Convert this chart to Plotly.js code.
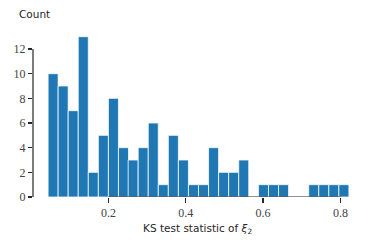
<!DOCTYPE html>
<html><head><meta charset="utf-8">
<script src="https://cdn.plot.ly/plotly-3.0.1.min.js"></script>
<style>html,body{margin:0;padding:0;background:#fff;}#chart{width:374px;height:245px;}</style>
</head><body><div id="chart"></div>
<script>
// Histogram bins (centers) and counts
const binCenters = [0.057,0.083,0.109,0.135,0.161,0.187,0.213,0.239,0.264,0.290,
                    0.316,0.342,0.368,0.394,0.420,0.446,0.472,0.498,0.524,0.550,
                    0.576,0.601,0.627,0.653,0.679,0.705,0.731,0.757,0.783,0.809];
const counts = [10,9,7,13,2,5,8,4,3,4,6,1,5,3,1,1,4,2,2,3,0,1,1,1,0,0,1,1,1,1];
const binWidth = 0.0259;
const xTicks = [0.2,0.4,0.6,0.8];
const xTickText = ['0.2','0.4','0.6','0.8'];
const yTicks = [0,2,4,6,8,10,12];
const yTickText = ['0','2','4','6','8','10','12'];

const trace = {
  type:'bar', x:binCenters, y:counts,
  width: counts.map(()=>binWidth),
  marker:{color:'#1f77b4', line:{color:'rgba(255,255,255,0.75)', width:1}},
  hoverinfo:'skip'
};
const spineColor = '#262626';
const serif = '"Liberation Serif", "DejaVu Serif", serif';
const layout = {
  width:374, height:245,
  margin:{l:33, r:22, t:33, b:48},
  paper_bgcolor:'#fff', plot_bgcolor:'#fff',
  showlegend:false, bargap:0,
  xaxis:{range:[0.005,0.83], tickvals:xTicks, ticktext:xTickText,
    ticks:'outside', ticklen:5, tickwidth:1.2, tickcolor:spineColor,
    showgrid:false, zeroline:false, showline:false,
    tickfont:{family:serif, size:12, color:'#444'}},
  yaxis:{range:[0,13.3], tickvals:yTicks, ticktext:yTickText,
    ticks:'outside', ticklen:4, tickwidth:1.2, tickcolor:spineColor,
    showgrid:false, zeroline:false, showline:false,
    tickfont:{family:serif, size:12, color:'#444'}},
  shapes:[
    {type:'line', xref:'x', yref:'y', x0:xTicks[0], x1:xTicks[xTicks.length-1], y0:0, y1:0,
     line:{color:spineColor, width:1.2}},
    {type:'line', xref:'paper', yref:'y', x0:0, x1:0, y0:yTicks[0], y1:yTicks[yTicks.length-1],
     line:{color:spineColor, width:1.2}}
  ],
  annotations:[
    {text:'Count', xref:'paper', yref:'paper', x:-0.05, y:1.115,
     xanchor:'left', yanchor:'middle', showarrow:false,
     font:{family:'DejaVu Sans', size:10.5, color:'#262626'}},
    {text:'KS test statistic of <i>ξ</i><sub>2</sub>', xref:'paper', yref:'paper', x:0.517, y:-0.195,
     xanchor:'center', yanchor:'middle', showarrow:false,
     font:{family:'DejaVu Sans', size:10.5, color:'#262626'}}
  ]
};
Plotly.newPlot('chart',[trace],layout,{staticPlot:true, displayModeBar:false});
</script></body></html>
